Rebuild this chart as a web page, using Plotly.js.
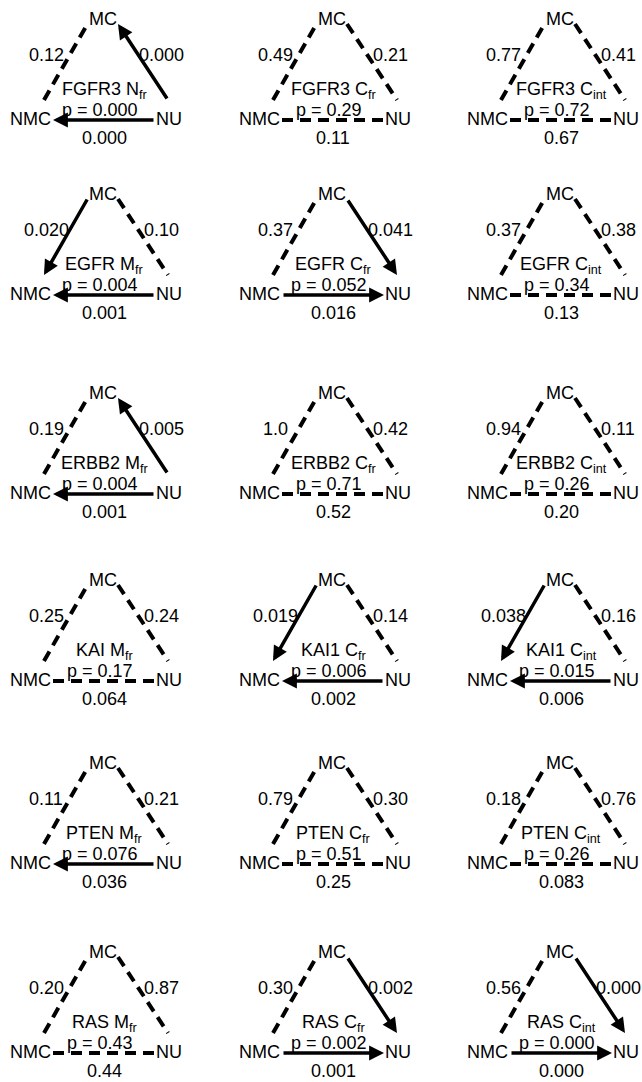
<!DOCTYPE html>
<html>
<head>
<meta charset="utf-8">
<script src="https://cdn.plot.ly/plotly-3.0.1.min.js"></script>
<style>html,body{margin:0;padding:0;background:#fff;}#chart{width:642px;height:1082px;}</style>
</head>
<body>
<div id="chart"></div>
<script>
// ---- data (panels read row by row, left to right) ----
var genes = ['FGFR3','FGFR3','FGFR3','EGFR','EGFR','EGFR','ERBB2','ERBB2','ERBB2','KAI','KAI1','KAI1','PTEN','PTEN','PTEN','RAS','RAS','RAS'];
var measures = ['N','C','C','M','C','C','M','C','C','M','C','C','M','C','C','M','C','C'];
var measureSubs = ['fr','fr','int','fr','fr','int','fr','fr','int','fr','fr','int','fr','fr','int','fr','fr','int'];
var pValues = ['0.000','0.29','0.72','0.004','0.052','0.34','0.004','0.71','0.26','0.17','0.006','0.015','0.076','0.51','0.26','0.43','0.002','0.000'];
// edge NMC–MC
var leftValues = ['0.12','0.49','0.77','0.020','0.37','0.37','0.19','1.0','0.94','0.25','0.019','0.038','0.11','0.79','0.18','0.20','0.30','0.56'];
var leftTo = [null,null,null,'NMC',null,null,null,null,null,null,'NMC','NMC',null,null,null,null,null,null];
// edge MC–NU
var rightValues = ['0.000','0.21','0.41','0.10','0.041','0.38','0.005','0.42','0.11','0.24','0.14','0.16','0.21','0.30','0.76','0.87','0.002','0.000'];
var rightTo = ['MC',null,null,null,'NU',null,'MC',null,null,null,null,null,null,null,null,null,'NU','NU'];
// edge NMC–NU
var bottomValues = ['0.000','0.11','0.67','0.001','0.016','0.13','0.001','0.52','0.20','0.064','0.002','0.006','0.036','0.25','0.083','0.44','0.001','0.000'];
var bottomTo = ['NMC',null,null,'NMC','NU',null,'NMC',null,null,null,'NMC','NMC','NMC',null,null,null,'NU','NU'];

// ---- layout geometry ----
var colOffsets = [0, 229, 457];
var rowOffsets = [0, 175, 374, 561, 744, 933];
var FONT = {family: 'Liberation Sans, Arial, sans-serif', size: 18, color: '#000'};
var LW = 4;
// edge endpoints relative to panel origin
var edgeGeom = {
  left:   {a: [44, 100], b: [88, 23], aName: 'NMC', bName: 'MC'},
  right:  {a: [118, 24], b: [168, 100], aName: 'MC', bName: 'NU'},
  bottom: {a: [53, 120], b: [155, 120], aName: 'NMC', bName: 'NU'}
};

var traces = [];
var annotations = [];

function txt(x, y, s, anchor) {
  annotations.push({x: x, y: y, xref: 'x', yref: 'y', text: s, showarrow: false,
    xanchor: anchor || 'center', yanchor: 'middle', font: FONT});
}

for (var i = 0; i < genes.length; i++) {
  var ox = colOffsets[i % 3];
  var oy = rowOffsets[Math.floor(i / 3)];
  var edges = [['left', leftTo[i]], ['right', rightTo[i]], ['bottom', bottomTo[i]]];
  edges.forEach(function (e) {
    var g = edgeGeom[e[0]];
    var A = [ox + g.a[0], oy + g.a[1]], B = [ox + g.b[0], oy + g.b[1]];
    if (!e[1]) {
      traces.push({x: [A[0], B[0]], y: [A[1], B[1]], mode: 'lines', type: 'scatter',
        line: {color: '#000', width: LW, dash: '11px,7px'}, hoverinfo: 'skip', showlegend: false});
    } else {
      var head = (e[1] === g.aName) ? A : B;
      var tail = (e[1] === g.aName) ? B : A;
      annotations.push({x: head[0], y: head[1], ax: tail[0], ay: tail[1],
        xref: 'x', yref: 'y', axref: 'x', ayref: 'y', text: '', showarrow: true,
        arrowhead: 2, arrowsize: 0.85, arrowwidth: 3.5, arrowcolor: '#000', standoff: 0, startstandoff: 0});
    }
  });
  txt(ox + 103, oy + 19, 'MC');
  txt(ox + 30, oy + 119, 'NMC');
  txt(ox + 169, oy + 119, 'NU');
  txt(ox + 46, oy + 55, leftValues[i]);
  txt(ox + 161, oy + 55, rightValues[i]);
  txt(ox + 104, oy + 90, genes[i] + ' ' + measures[i] + '<sub>' + measureSubs[i] + '</sub>');
  txt(ox + 100, oy + 110, 'p = ' + pValues[i]);
  txt(ox + 104, oy + 138, bottomValues[i]);
}

var layout = {
  width: 642, height: 1082,
  margin: {l: 0, r: 0, t: 0, b: 0},
  paper_bgcolor: '#fff', plot_bgcolor: '#fff',
  showlegend: false,
  xaxis: {range: [0, 642], visible: false, fixedrange: true},
  yaxis: {range: [1082, 0], visible: false, fixedrange: true},
  annotations: annotations,
  font: FONT
};
Plotly.newPlot('chart', traces, layout, {staticPlot: true, displayModeBar: false});
</script>
</body>
</html>
